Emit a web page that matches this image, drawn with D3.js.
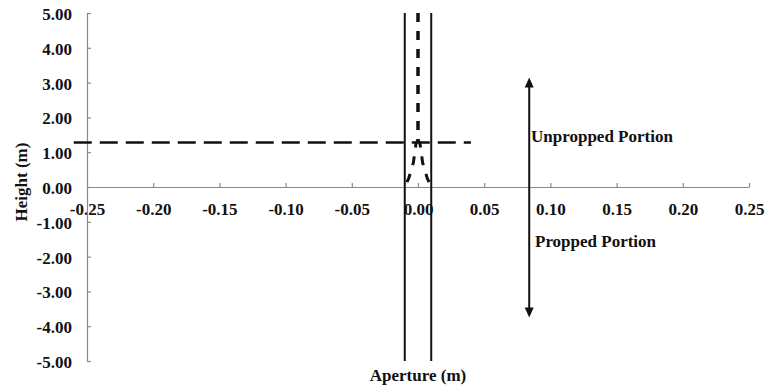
<!DOCTYPE html>
<html>
  <head>
    <meta charset="utf-8" />
    <script src="https://d3js.org/d3.v7.min.js"></script>
    <style>
      body { margin: 0; background: #fff; }
      text { font-family: "Liberation Serif", "Times New Roman", serif; font-weight: bold; }
    </style>
  </head>
  <body>
    <svg id="chart" width="766" height="389"></svg>
    <script>
      // Datos
      const xTicks = [-0.25, -0.2, -0.15, -0.1, -0.05, 0, 0.05, 0.1, 0.15, 0.2, 0.25];
      const yTicks = [-5, -4, -3, -2, -1, 0, 1, 2, 3, 4, 5];
      const wallX = [-0.01, 0.01];            // paredes de la fractura (línea sólida)
      const wallH = [5, -5];
      const profileH = [5, 1.35, 1.25, 0.7, 0.25, 0]; // perfil sin apuntalar
      const profileHalfW = [0, 0, 0.0015, 0.0035, 0.007, 0.01];
      const levelX = [-0.26, 0.04];           // línea horizontal discontinua
      const levelH = 1.28;
      const arrowX = 0.084;
      const arrowH = [3.15, -3.75];

      const svg = d3.select("#chart");
      const x = d3.scaleLinear().domain([-0.25, 0.25]).range([87, 749]);
      const y = d3.scaleLinear().domain([-5, 5]).range([361, 13]);
      const fmt = (d) => d.toFixed(2);

      // Ejes
      const xAxis = svg.append("g")
        .attr("transform", `translate(0,${y(0)})`)
        .call(d3.axisBottom(x).tickValues(xTicks).tickFormat(fmt)
          .tickSizeInner(-4).tickSizeOuter(0).tickPadding(16));
      const yAxis = svg.append("g")
        .attr("transform", `translate(${x(-0.25)},0)`)
        .call(d3.axisLeft(y).tickValues(yTicks).tickFormat(fmt)
          .tickSizeInner(-4).tickSizeOuter(0).tickPadding(15));
      svg.selectAll(".domain, .tick line").attr("stroke", "#8a8a8a").attr("stroke-width", 1.2);
      svg.selectAll(".tick text").attr("font-size", 17).attr("fill", "#111");
      yAxis.selectAll(".tick text").attr("dy", "0.38em");

      const line = d3.line().x((d) => x(d[0])).y((d) => y(d[1]));

      // Línea horizontal discontinua
      svg.append("path")
        .datum(levelX.map((v) => [v, levelH]))
        .attr("d", line)
        .attr("fill", "none").attr("stroke", "#111")
        .attr("stroke-width", 2.5).attr("stroke-dasharray", "18,8");

      // Perfil discontinuo (ambos lados)
      [-1, 1].forEach((s) => {
        svg.append("path")
          .datum(profileH.map((h, i) => [s * profileHalfW[i], h]))
          .attr("d", line.curve(d3.curveLinear))
          .attr("fill", "none").attr("stroke", "#111")
          .attr("stroke-width", 3).attr("stroke-dasharray", "9,9");
      });

      // Paredes sólidas
      wallX.forEach((wx) => {
        svg.append("path")
          .datum(wallH.map((h) => [wx, h]))
          .attr("d", line)
          .attr("fill", "none").attr("stroke", "#111").attr("stroke-width", 2);
      });

      // Flecha doble
      const ax = x(arrowX), ay0 = y(arrowH[0]), ay1 = y(arrowH[1]);
      svg.append("line")
        .attr("x1", ax).attr("x2", ax).attr("y1", ay0 + 8).attr("y2", ay1 - 8)
        .attr("stroke", "#111").attr("stroke-width", 2);
      svg.append("path")
        .attr("d", `M${ax},${ay0}L${ax - 4.5},${ay0 + 10}L${ax + 4.5},${ay0 + 10}Z`)
        .attr("fill", "#111");
      svg.append("path")
        .attr("d", `M${ax},${ay1}L${ax - 4.5},${ay1 - 10}L${ax + 4.5},${ay1 - 10}Z`)
        .attr("fill", "#111");

      // Etiquetas
      svg.append("text").attr("x", 531).attr("y", 142).attr("font-size", 17)
        .attr("fill", "#111").text("Unpropped Portion");
      svg.append("text").attr("x", 535).attr("y", 247).attr("font-size", 17)
        .attr("fill", "#111").text("Propped Portion");
      svg.append("text").attr("x", 418).attr("y", 381).attr("font-size", 17)
        .attr("text-anchor", "middle").attr("fill", "#111").text("Aperture (m)");
      svg.append("text").attr("transform", "translate(27,182) rotate(-90)")
        .attr("font-size", 17).attr("text-anchor", "middle").attr("fill", "#111")
        .text("Height (m)");
    </script>
  </body>
</html>
